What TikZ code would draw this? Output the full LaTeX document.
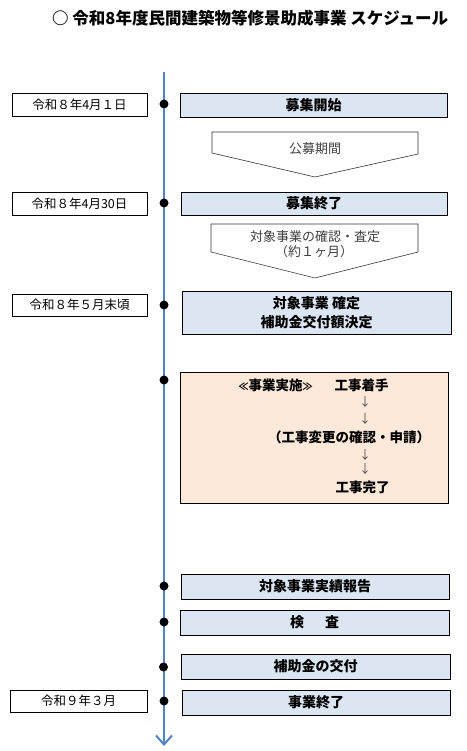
\documentclass[tikz,border=0pt]{standalone}
\usepackage{fontspec}
\setmainfont{Noto Sans CJK JP}
\usetikzlibrary{arrows.meta}
\definecolor{tlblue}{HTML}{5283C4}
\definecolor{boxblue}{HTML}{DCE6F2}
\definecolor{peach}{HTML}{FDE9D9}
\definecolor{chevtext}{HTML}{404040}
\tikzset{
  datebox/.style={draw=black, line width=0.8pt, fill=white, minimum height=23pt, inner sep=0pt,
    font=\fontsize{12.5}{14}\selectfont},
  evbox/.style={draw=black, line width=0.8pt, fill=boxblue, inner sep=0pt,
    font=\fontsize{14}{19}\selectfont\bfseries, align=center},
  dot/.style={circle, fill=black, minimum size=9pt, inner sep=0pt},
  chev/.style={draw=black!80, line width=0.6pt, fill=white},
  chevlabel/.style={text=chevtext, font=\fontsize{13}{15}\selectfont, inner sep=0pt, align=center},
  inlabel/.style={font=\fontsize{13.5}{15}\selectfont\bfseries, inner sep=0pt},
  downarr/.style={text=black!70, font=\fontsize{12}{14}\selectfont, inner sep=0pt}
}
\begin{document}
\begin{tikzpicture}[x=1pt, y=-1pt]
\useasboundingbox (0,0) rectangle (466,751);
% title
\node[font=\fontsize{16.5}{18}\selectfont\bfseries, anchor=west, inner sep=0pt] (title) at (52,18) {○\ 令和8年度民間建築物等修景助成事業 スケジュール};
% timeline
\coordinate (tltop) at (164,72);
\coordinate (tlbot) at (164,746);
\draw[tlblue, line width=2pt, -{Straight Barb[length=9pt, width=16pt, line width=2pt]}] (tltop) -- (tlbot);
% date boxes
\node[datebox, minimum width=135pt] (d1) at (79.5,104.5) {令和８年4月１日};
\node[datebox, minimum width=135pt] (d2) at (79.5,203.5) {令和８年4月30日};
\node[datebox, minimum width=135pt, minimum height=22pt] (d3) at (79.5,305) {令和８年５月末頃};
\node[datebox, minimum width=137pt, minimum height=22pt] (d4) at (78.5,701) {令和９年３月};
% event boxes
\node[evbox, minimum width=267pt, minimum height=24pt] (b1) at (313.5,105) {募集開始};
\node[evbox, minimum width=266pt, minimum height=23pt] (b2) at (314,203.5) {募集終了};
\node[evbox, minimum width=269pt, minimum height=43pt] (b3) at (316.5,312.5) {対象事業 確定\\補助金交付額決定};
\node[draw=black, line width=0.8pt, fill=peach, minimum width=268pt, minimum height=131pt, inner sep=0pt] (b4) at (314,437.5) {};
\node[evbox, minimum width=268pt, minimum height=25pt] (b5) at (315,586.5) {対象事業実績報告};
\node[evbox, minimum width=269pt, minimum height=25pt] (b6) at (314.5,622.5) {検\hspace{1.5em}査};
\node[evbox, minimum width=269pt, minimum height=25pt] (b7) at (315.5,666.5) {補助金の交付};
\node[evbox, minimum width=268pt, minimum height=25pt] (b8) at (316,702.5) {事業終了};
% dots
\node[dot] (p1) at (164,104) {};
\node[dot] (p2) at (164,203) {};
\node[dot] (p3) at (164,305) {};
\node[dot] (p4) at (164,380) {};
\node[dot] (p5) at (164,586) {};
\node[dot] (p6) at (164,622) {};
\node[dot] (p7) at (163.5,667) {};
\node[dot] (p8) at (164,701) {};
% chevrons
\draw[chev] (212,132) -- (418,132) -- (418,154) -- (315,177) -- (212,153) -- cycle;
\node[chevlabel] (c1) at (315,149) {公募期間};
\draw[chev] (211,224) -- (418,224) -- (418,252) -- (315,278) -- (211,252) -- cycle;
\node[chevlabel] (c2a) at (315,237) {対象事業の確認・査定};
\node[chevlabel] (c2b) at (314,252) {（約１ヶ月）};
% inside peach box
\node[inlabel] (i1) at (275.5,385) {{\fontsize{10}{12}\selectfont ≪}事業実施{\fontsize{10}{12}\selectfont ≫}};
\node[inlabel] (i2) at (361.5,385) {工事着手};
\node[downarr] (a1) at (365,402) {↓};
\node[downarr] (a2) at (365,419) {↓};
\node[inlabel] (i3) at (349,437) {（工事変更の確認・申請）};
\node[downarr] (a3) at (365,455) {↓};
\node[downarr] (a4) at (365,469) {↓};
\node[inlabel] (i4) at (362.5,487) {工事完了};
\end{tikzpicture}
\end{document}
